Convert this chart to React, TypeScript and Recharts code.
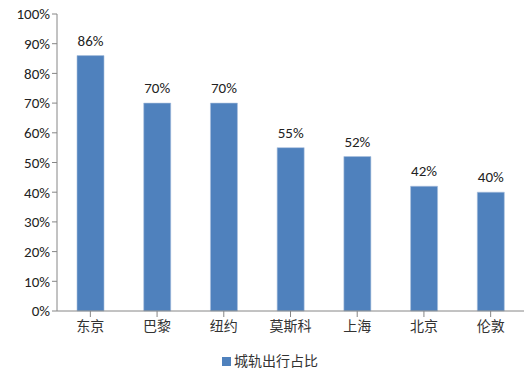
import React from 'react';
import { BarChart, Bar, XAxis, YAxis, LabelList, Legend } from 'recharts';

const cities = ['东京', '巴黎', '纽约', '莫斯科', '上海', '北京', '伦敦'];
const shares = [86, 70, 70, 55, 52, 42, 40];
const yTicks = [0, 10, 20, 30, 40, 50, 60, 70, 80, 90, 100];
const seriesName = '城轨出行占比';

const data = cities.map((name, i) => ({ name, share: shares[i] }));

const axisColor = '#868686';
const barColor = '#4F81BD';

const renderLegend = () => <div style={{
  display: 'flex',
  alignItems: 'center',
  marginLeft: 222,
  marginTop: 7,
  fontFamily: '"Noto Sans CJK SC", sans-serif',
  fontSize: 14,
  color: '#333'
}}>
    <span style={{ width: 9, height: 9, background: barColor, marginRight: 3, marginTop: 3 }} />
    {seriesName}
  </div>;

const App: React.FC = () => {
  return <div style={{ position: 'absolute', left: 0, top: 0, width: 530, height: 373, background: '#fff' }}>
      <BarChart width={530} height={373} data={data} margin={{
      top: 14,
      right: 6,
      left: 0,
      bottom: 0
    }} barCategoryGap="30%">
        <XAxis dataKey="name" stroke={axisColor} tickLine={{ stroke: axisColor }} tickSize={6} interval={0}
          tick={{ fill: '#333', fontSize: 14, fontFamily: '"Noto Sans CJK SC", sans-serif', dy: 2 }} height={32} />
        <YAxis domain={[0, 100]} ticks={yTicks} tickFormatter={v => `${v}%`} stroke={axisColor} tickSize={5}
          tick={{ fill: '#222', fontSize: 15, fontFamily: 'Carlito, "Liberation Sans", sans-serif' }} width={57} />
        <Legend verticalAlign="bottom" height={30} content={renderLegend} />
        <Bar dataKey="share" name={seriesName} fill={barColor} stroke="#a9c0de" strokeWidth={0.6} isAnimationActive={false}>
          <LabelList dataKey="share" position="top" offset={10} formatter={(v: number) => `${v}%`}
            style={{ fill: '#222', fontSize: 15, fontFamily: 'Carlito, "Liberation Sans", sans-serif' }} />
        </Bar>
      </BarChart>
    </div>;
};

export default App;
